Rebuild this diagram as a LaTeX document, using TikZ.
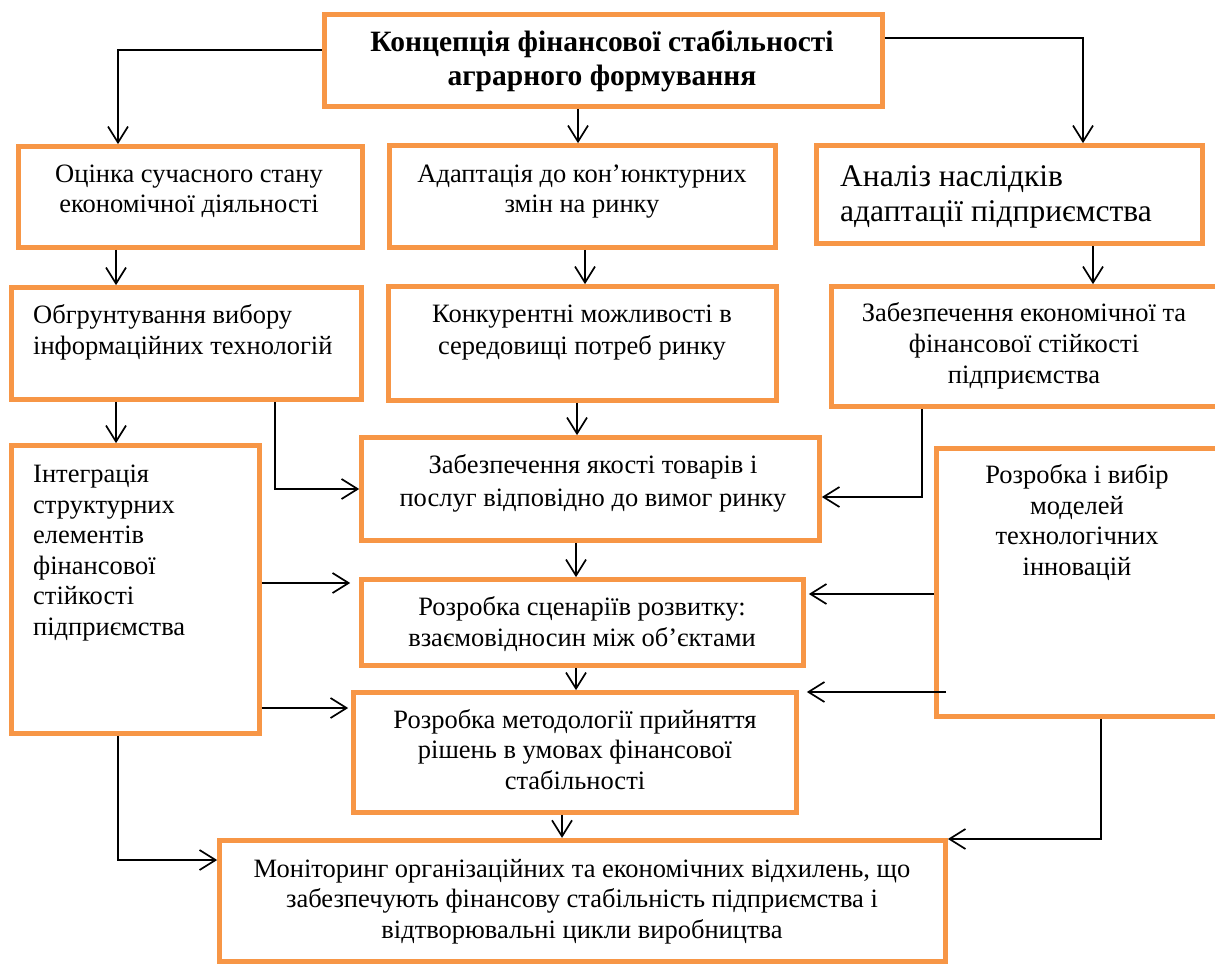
\documentclass[tikz,border=0pt]{standalone}
\usepackage{fontspec}
\setmainfont{Liberation Serif}
\usetikzlibrary{arrows.meta}
\definecolor{boxorange}{RGB}{247,150,70}
\newcommand{\bodyfont}[1]{\fontsize{26.5}{#1}\selectfont}
\begin{document}
\begin{tikzpicture}[x=1pt,y=-1pt,
  box/.style={draw=boxorange, line width=4.7pt, inner sep=0pt},
  % text nodes are placed by the baseline of their last line
  txt/.style={inner sep=0pt, align=center, anchor=base, font=\bodyfont{30.5}},
  txtl/.style={inner sep=0pt, align=left, anchor=base west, font=\bodyfont{30.5}},
  arr/.style={draw=black, line width=1.7pt,
    -{Straight Barb[length=16pt,width=20pt,line width=1.7pt]}}
]
\useasboundingbox (0,0) rectangle (1215,965);

% boxes
\node[box, minimum width=558pt, minimum height=92pt]    (T) at (603.5,60.5) {};
\node[box, minimum width=344pt, minimum height=101pt]   (A) at (190.5,197) {};
\node[box, minimum width=386pt, minimum height=102pt]   (B) at (582.5,196.5) {};
\node[box, minimum width=386pt, minimum height=98pt]    (C) at (1009.5,194.5) {};
\node[box, minimum width=350pt, minimum height=112pt]   (D) at (186.5,343.5) {};
\node[box, minimum width=388pt, minimum height=114pt]   (E) at (582.5,343.5) {};
\node[box, minimum width=393.5pt, minimum height=120pt] (F) at (1028,346.5) {};
\node[box, minimum width=248pt, minimum height=288pt]   (G) at (135.5,589.5) {};
\node[box, minimum width=458pt, minimum height=103pt]   (Q) at (590.5,489) {};
\node[box, minimum width=442pt, minimum height=86pt]    (S) at (582.5,622.5) {};
\node[box, minimum width=443pt, minimum height=120pt]   (M) at (575,752.5) {};
\node[box, minimum width=288.5pt, minimum height=268pt] (R) at (1080.75,582.5) {};
\node[box, minimum width=726pt, minimum height=121.5pt] (N) at (582.5,901) {};

% texts
\node[txt, font=\fontsize{29.5}{34}\selectfont\bfseries] (Tt) at (602,86)
  {Концепція фінансової стабільності\\аграрного формування};
\node[txt] (At) at (189,213) {Оцінка сучасного стану\\економічної діяльності};
\node[txt] (Bt) at (582,213) {Адаптація до кон’юнктурних\\змін на ринку};
\node[txtl, font=\fontsize{31.5}{35}\selectfont] (Ct) at (840,222)
  {Аналіз наслідків\\адаптації підприємства};
\node[txtl, font=\bodyfont{31}] (Dt) at (33,355)
  {Обгрунтування вибору\\інформаційних технологій};
\node[txt, font=\bodyfont{32}] (Et) at (582,355)
  {Конкурентні можливості в\\середовищі потреб ринку};
\node[txt, font=\bodyfont{31}] (Ft) at (1024,383)
  {Забезпечення економічної та\\фінансової стійкості\\підприємства};
\node[txtl] (Gt) at (33,635)
  {Інтеграція\\структурних\\елементів\\фінансової\\стійкості\\підприємства};
\node[txt, font=\bodyfont{33}] (Qt) at (593,506)
  {Забезпечення якості товарів і\\послуг відповідно до вимог ринку};
\node[txt] (Rt) at (1077,575) {Розробка і вибір\\моделей\\технологічних\\інновацій};
\node[txt, font=\bodyfont{31}] (St) at (582,646)
  {Розробка сценаріїв розвитку:\\взаємовідносин між об’єктами};
\node[txt] (Mt) at (575,789)
  {Розробка методології прийняття\\рішень в умовах фінансової\\стабільності};
\node[txt] (Nt) at (582,938)
  {Моніторинг організаційних та економічних відхилень, що\\забезпечують фінансову стабільність підприємства і\\відтворювальні цикли виробництва};

% connectors
\draw[arr] ([yshift=10.5pt]T.west) -| ([xshift=-72.5pt]A.north);
\draw[arr] ([xshift=-25.5pt]T.south) -- ([xshift=-4.5pt]B.north);
\draw[arr] ([yshift=22.5pt]T.east) -| ([xshift=73.5pt]C.north);
\draw[arr] ([xshift=-74.5pt]A.south) -- ([xshift=-70.5pt]D.north);
\draw[arr] ([xshift=2.5pt]B.south) -- ([xshift=2.5pt]E.north);
\draw[arr] ([xshift=83.5pt]C.south) -- ([xshift=65pt]F.north);
\draw[arr] ([xshift=-70.5pt]D.south) -- ([xshift=-19.5pt]G.north);
\draw[arr] ([xshift=88.5pt]D.south) |- (Q.west);
\draw[arr] ([xshift=-5.5pt]E.south) -- ([xshift=-13.5pt]Q.north);
\draw[arr] ([xshift=-106pt]F.south) |- ([yshift=-8pt]Q.east);
\draw[arr] ([xshift=-14.5pt]Q.south) -- ([xshift=-6.5pt]S.north);
\draw[arr] ([xshift=-6.5pt]S.south) -- ([xshift=1pt]M.north);
\draw[arr] ([xshift=-13pt]M.south) -- ([xshift=-20.5pt]N.north);
\draw[arr, shorten >=9pt] ([yshift=6.5pt]G.east) -- ([yshift=39.5pt]S.west);
\draw[arr, shorten >=3pt] ([yshift=-118.5pt]G.east) -- ([yshift=44.5pt]M.west);
\draw[arr] ([xshift=-17.5pt]G.south) |- ([yshift=41pt]N.west);
\draw[arr, shorten >=3pt] ([yshift=-11.5pt]R.west) -- ([yshift=28.5pt]S.east);
\draw[arr, shorten >=8pt] ([xshift=12pt,yshift=-109.5pt]R.west) -- ([yshift=60.5pt]M.east);
\draw[arr] ([xshift=20.25pt]R.south) |- ([yshift=62pt]N.east);
\end{tikzpicture}
\end{document}
